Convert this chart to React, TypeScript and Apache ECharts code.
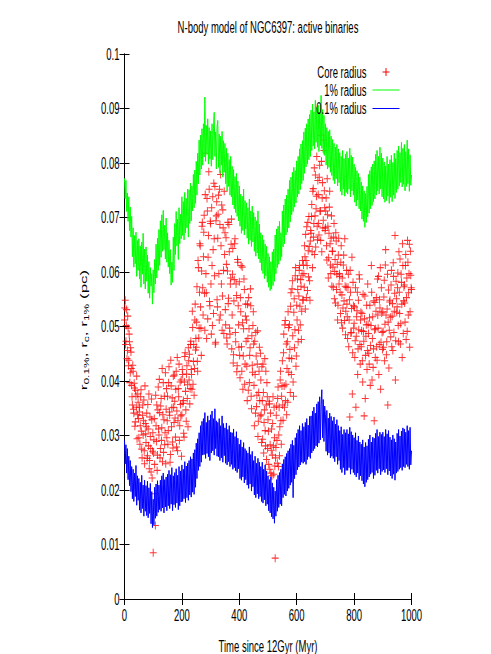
import React, { useEffect, useRef } from "react";
import * as echarts from "echarts";

// Time step between stored samples (Myr)
const STEP = 2.5;
// Second set of core-radius outputs sits half a step later
const OFFSET_B = 1.25;

const xTicks = [0, 200, 400, 600, 800, 1000];
const yTicks = [0, 0.01, 0.02, 0.03, 0.04, 0.05, 0.06, 0.07, 0.08, 0.09, 0.1];
const yTickLabels = ["0", "0.01", "0.02", "0.03", "0.04", "0.05", "0.06", "0.07", "0.08", "0.09", "0.1"];

// 1% Lagrangian radius (pc), every 2.5 Myr
const radius1pct = [
  0.0772, 0.0735, 0.0768, 0.0711, 0.0745, 0.0693, 0.0738, 0.0676, 0.0719, 0.0664,
  0.0702, 0.0628, 0.0681, 0.0609, 0.0667, 0.0615, 0.0673, 0.0592, 0.0658, 0.0603,
  0.0661, 0.0587, 0.0648, 0.0572, 0.0655, 0.0596, 0.0671, 0.0578, 0.0642, 0.0569,
  0.0646, 0.0583, 0.0631, 0.0561, 0.0619, 0.0552, 0.0608, 0.0574, 0.0597, 0.0541,
  0.0604, 0.0562, 0.0623, 0.0578, 0.0651, 0.0589, 0.0662, 0.0603, 0.0678, 0.0612,
  0.0694, 0.0627, 0.0705, 0.0638, 0.0713, 0.0641, 0.0686, 0.0624, 0.0699, 0.0618,
  0.0672, 0.0609, 0.0658, 0.0597, 0.0641, 0.0576, 0.0618, 0.0581, 0.0664, 0.0603,
  0.0689, 0.0632, 0.0711, 0.0648, 0.0697, 0.0623, 0.0718, 0.0652, 0.0706, 0.0661,
  0.0738, 0.0667, 0.0729, 0.0659, 0.0746, 0.0672, 0.0735, 0.0681, 0.0752, 0.0664,
  0.0751, 0.0689, 0.0763, 0.0694, 0.0758, 0.0712, 0.0779, 0.0718, 0.0787, 0.0726,
  0.0803, 0.0741, 0.0818, 0.0762, 0.0842, 0.0778, 0.0851, 0.0789, 0.0863, 0.0796,
  0.0872, 0.0811, 0.0921, 0.0803, 0.0869, 0.0816, 0.0881, 0.0798, 0.0865, 0.0807,
  0.0859, 0.0794, 0.0872, 0.0806, 0.0863, 0.0893, 0.0812, 0.0857, 0.0789, 0.0866,
  0.0878, 0.0792, 0.0853, 0.0781, 0.0849, 0.0796, 0.0858, 0.0774, 0.0841, 0.0783,
  0.0836, 0.0762, 0.0827, 0.0749, 0.0818, 0.0757, 0.0806, 0.0741, 0.0812, 0.0738,
  0.0794, 0.0723, 0.0788, 0.0716, 0.0775, 0.0709, 0.0781, 0.0702, 0.0767, 0.0694,
  0.0758, 0.0684, 0.0743, 0.0671, 0.0739, 0.0676, 0.0752, 0.0668, 0.0731, 0.0679,
  0.0727, 0.0662, 0.0718, 0.0651, 0.0734, 0.0658, 0.0712, 0.0647, 0.0721, 0.0655,
  0.0709, 0.0638, 0.0701, 0.0629, 0.0694, 0.0635, 0.0712, 0.0624, 0.0688, 0.0617,
  0.0672, 0.0603, 0.0668, 0.0597, 0.0659, 0.0588, 0.0651, 0.0593, 0.0647, 0.0581,
  0.0634, 0.0572, 0.0628, 0.0566, 0.0619, 0.0569, 0.0637, 0.0575, 0.0642, 0.0583,
  0.0668, 0.0597, 0.0679, 0.0608, 0.0684, 0.0614, 0.0693, 0.0621, 0.0672, 0.0628,
  0.0712, 0.0646, 0.0723, 0.0652, 0.0734, 0.0668, 0.0741, 0.0673, 0.0752, 0.0681,
  0.0768, 0.0692, 0.0774, 0.0705, 0.0783, 0.0711, 0.0792, 0.0719, 0.0786, 0.0727,
  0.0804, 0.0738, 0.0812, 0.0743, 0.0826, 0.0751, 0.0835, 0.0762, 0.0841, 0.0768,
  0.0857, 0.0781, 0.0864, 0.0793, 0.0872, 0.0798, 0.0881, 0.0806, 0.0889, 0.0812,
  0.0897, 0.0823, 0.0908, 0.0831, 0.0894, 0.0826, 0.0915, 0.0838, 0.0902, 0.0829,
  0.0906, 0.0821, 0.0893, 0.0832, 0.0924, 0.0827, 0.0898, 0.0819, 0.0887, 0.0814,
  0.0872, 0.0796, 0.0865, 0.0789, 0.0858, 0.0792, 0.0861, 0.0783, 0.0849, 0.0777,
  0.0843, 0.0768, 0.0836, 0.0762, 0.0829, 0.0771, 0.0834, 0.0758, 0.0826, 0.0764,
  0.0819, 0.0748, 0.0812, 0.0741, 0.0823, 0.0752, 0.0808, 0.0739, 0.0816, 0.0746,
  0.0821, 0.0743, 0.0809, 0.0752, 0.0827, 0.0738, 0.0814, 0.0749, 0.0811, 0.0741,
  0.0798, 0.0728, 0.0792, 0.0721, 0.0786, 0.0732, 0.0781, 0.0716, 0.0774, 0.0712,
  0.0765, 0.0697, 0.0758, 0.0693, 0.0749, 0.0682, 0.0744, 0.0691, 0.0757, 0.0701,
  0.0779, 0.0708, 0.0786, 0.0716, 0.0793, 0.0722, 0.0798, 0.0729, 0.0804, 0.0734,
  0.0816, 0.0741, 0.0823, 0.0749, 0.0812, 0.0743, 0.0829, 0.0752, 0.0818, 0.0738,
  0.0809, 0.0734, 0.0802, 0.0728, 0.0795, 0.0731, 0.0812, 0.0739, 0.0798, 0.0726,
  0.0806, 0.0737, 0.0814, 0.0729, 0.0801, 0.0741, 0.0818, 0.0735, 0.0808, 0.0746,
  0.0823, 0.0752, 0.0831, 0.0758, 0.0819, 0.0764, 0.0838, 0.0756, 0.0827, 0.0761,
  0.0834, 0.0749, 0.0821, 0.0757, 0.0842, 0.0762, 0.0826, 0.0748, 0.0815, 0.0759,
  0.0778,
];

// 0.1% Lagrangian radius (pc), every 2.5 Myr
const radius01pct = [
  0.0291, 0.0248, 0.0283, 0.0231, 0.0276, 0.0219, 0.0262, 0.0208, 0.0254, 0.0197,
  0.0243, 0.0184, 0.0238, 0.0179, 0.0231, 0.0188, 0.0245, 0.0172, 0.0226, 0.0181,
  0.0221, 0.0163, 0.0214, 0.0158, 0.0227, 0.0166, 0.0209, 0.0152, 0.0218, 0.0161,
  0.0208, 0.0153, 0.0216, 0.0149, 0.0204, 0.0157, 0.0212, 0.0138, 0.0197, 0.0131,
  0.0183, 0.0136, 0.0205, 0.0148, 0.0211, 0.0152, 0.0217, 0.0159, 0.0209, 0.0164,
  0.0218, 0.0161, 0.0226, 0.0167, 0.0231, 0.0158, 0.0219, 0.0169, 0.0224, 0.0162,
  0.0229, 0.0171, 0.0236, 0.0166, 0.0228, 0.0174, 0.0241, 0.0162, 0.0226, 0.0173,
  0.0232, 0.0168, 0.0239, 0.0176, 0.0227, 0.0164, 0.0243, 0.0171, 0.0235, 0.0178,
  0.0246, 0.0179, 0.0238, 0.0184, 0.0252, 0.0177, 0.0244, 0.0186, 0.0249, 0.0181,
  0.0254, 0.0191, 0.0261, 0.0187, 0.0257, 0.0196, 0.0268, 0.0192, 0.0274, 0.0205,
  0.0286, 0.0221, 0.0294, 0.0236, 0.0305, 0.0243, 0.0318, 0.0251, 0.0326, 0.0264,
  0.0331, 0.0265, 0.0342, 0.0258, 0.0324, 0.0267, 0.0336, 0.0261, 0.0328, 0.0254,
  0.0338, 0.0268, 0.0345, 0.0272, 0.0331, 0.0264, 0.0349, 0.0276, 0.0327, 0.0262,
  0.0324, 0.0261, 0.0331, 0.0254, 0.0318, 0.0259, 0.0336, 0.0251, 0.0322, 0.0263,
  0.0314, 0.0249, 0.0323, 0.0246, 0.0311, 0.0252, 0.0318, 0.0243, 0.0306, 0.0247,
  0.0305, 0.0238, 0.0312, 0.0241, 0.0298, 0.0235, 0.0307, 0.0232, 0.0295, 0.0239,
  0.0284, 0.0221, 0.0292, 0.0218, 0.0279, 0.0224, 0.0287, 0.0213, 0.0276, 0.0219,
  0.0272, 0.0209, 0.0268, 0.0203, 0.0279, 0.0211, 0.0265, 0.0198, 0.0271, 0.0206,
  0.0254, 0.0191, 0.0262, 0.0186, 0.0249, 0.0193, 0.0258, 0.0184, 0.0251, 0.0188,
  0.0243, 0.0179, 0.0251, 0.0176, 0.0238, 0.0182, 0.0246, 0.0171, 0.0235, 0.0174,
  0.0226, 0.0162, 0.0219, 0.0158, 0.0224, 0.0151, 0.0213, 0.0147, 0.0205, 0.0139,
  0.0198, 0.0152, 0.0219, 0.0161, 0.0227, 0.0168, 0.0232, 0.0174, 0.0238, 0.0171,
  0.0248, 0.0186, 0.0256, 0.0192, 0.0261, 0.0189, 0.0267, 0.0198, 0.0272, 0.0203,
  0.0276, 0.0209, 0.0284, 0.0214, 0.0291, 0.0186, 0.0282, 0.0221, 0.0296, 0.0228,
  0.0304, 0.0237, 0.0311, 0.0242, 0.0318, 0.0246, 0.0309, 0.0251, 0.0322, 0.0249,
  0.0316, 0.0252, 0.0324, 0.0247, 0.0331, 0.0256, 0.0319, 0.0261, 0.0335, 0.0258,
  0.0336, 0.0268, 0.0345, 0.0272, 0.0352, 0.0276, 0.0341, 0.0281, 0.0358, 0.0279,
  0.0362, 0.0286, 0.0371, 0.0292, 0.0357, 0.0384, 0.0296, 0.0366, 0.0289, 0.0354,
  0.0338, 0.0271, 0.0346, 0.0264, 0.0332, 0.0268, 0.0341, 0.0259, 0.0335, 0.0262,
  0.0327, 0.0258, 0.0334, 0.0252, 0.0321, 0.0261, 0.0329, 0.0247, 0.0318, 0.0254,
  0.0309, 0.0238, 0.0316, 0.0232, 0.0302, 0.0241, 0.0311, 0.0228, 0.0305, 0.0236,
  0.0311, 0.0236, 0.0303, 0.0241, 0.0315, 0.0229, 0.0307, 0.0238, 0.0301, 0.0232,
  0.0296, 0.0228, 0.0305, 0.0224, 0.0291, 0.0231, 0.0299, 0.0219, 0.0288, 0.0226,
  0.0284, 0.0217, 0.0292, 0.0211, 0.0279, 0.0206, 0.0287, 0.0214, 0.0281, 0.0219,
  0.0293, 0.0224, 0.0301, 0.0229, 0.0288, 0.0232, 0.0297, 0.0221, 0.0295, 0.0227,
  0.0304, 0.0236, 0.0311, 0.0231, 0.0298, 0.0239, 0.0306, 0.0228, 0.0302, 0.0234,
  0.0306, 0.0237, 0.0298, 0.0232, 0.0311, 0.0239, 0.0303, 0.0228, 0.0309, 0.0235,
  0.0297, 0.0226, 0.0292, 0.0221, 0.0301, 0.0229, 0.0294, 0.0218, 0.0288, 0.0231,
  0.0304, 0.0234, 0.0311, 0.0238, 0.0299, 0.0241, 0.0308, 0.0236, 0.0314, 0.0243,
  0.0312, 0.0241, 0.0306, 0.0247, 0.0318, 0.0243, 0.0309, 0.0238, 0.0315, 0.0246,
  0.0272,
];

// Core radius (pc), outputs at t = 0, 2.5, 5 ... Myr
const coreRadiusA = [
  0.0512, 0.0548, 0.0473, 0.0531, 0.0456, 0.0497, 0.0438, 0.0472, 0.0415, 0.0453,
  0.0392, 0.0356, 0.0418, 0.0341, 0.0387, 0.0325, 0.0372, 0.0409, 0.0338, 0.0361,
  0.0296, 0.0352, 0.0318, 0.0384, 0.0275, 0.0337, 0.0301, 0.0365, 0.0248, 0.0322,
  0.0287, 0.0341, 0.0263, 0.0312, 0.0376, 0.0254, 0.0298, 0.0233, 0.0329, 0.0271,
  0.0085, 0.0292, 0.0247, 0.0135, 0.0318, 0.0356, 0.0264, 0.0389, 0.0301, 0.0342,
  0.0276, 0.0368, 0.0314, 0.0252, 0.0397, 0.0329, 0.0283, 0.0415, 0.0348, 0.0296,
  0.0372, 0.0309, 0.0426, 0.0337, 0.0265, 0.0391, 0.0351, 0.0288, 0.0409, 0.0324,
  0.0363, 0.0297, 0.0418, 0.0345, 0.0272, 0.0386, 0.0431, 0.0318, 0.0357, 0.0402,
  0.0338, 0.0412, 0.0364, 0.0297, 0.0445, 0.0381, 0.0326, 0.0428, 0.0393, 0.0461,
  0.0402, 0.0358, 0.0467, 0.0421, 0.0385, 0.0498, 0.0436, 0.0374, 0.0512, 0.0457,
  0.0462, 0.0573, 0.0418, 0.0608, 0.0497, 0.0652, 0.0536, 0.0447, 0.0684, 0.0571,
  0.0628, 0.0704, 0.0493, 0.0818, 0.0562, 0.0735, 0.0514, 0.0667, 0.0752, 0.0538,
  0.0689, 0.0486, 0.0612, 0.0738, 0.0524, 0.0661, 0.0757, 0.0471, 0.0703, 0.0549,
  0.0662, 0.0741, 0.0512, 0.0687, 0.0779, 0.0578, 0.0493, 0.0714, 0.0603, 0.0748,
  0.0672, 0.0503, 0.0614, 0.0468, 0.0691, 0.0552, 0.0637, 0.0486, 0.0589, 0.0697,
  0.0521, 0.0643, 0.0448, 0.0586, 0.0661, 0.0472, 0.0557, 0.0428, 0.0618, 0.0503,
  0.0582, 0.0406, 0.0527, 0.0463, 0.0609, 0.0385, 0.0496, 0.0568, 0.0431, 0.0541,
  0.0512, 0.0364, 0.0478, 0.0553, 0.0397, 0.0461, 0.0538, 0.0349, 0.0429, 0.0502,
  0.0468, 0.0318, 0.0412, 0.0489, 0.0353, 0.0431, 0.0298, 0.0379, 0.0462, 0.0336,
  0.0402, 0.0287, 0.0364, 0.0431, 0.0268, 0.0347, 0.0309, 0.0418, 0.0256, 0.0371,
  0.0329, 0.0247, 0.0358, 0.0283, 0.0231, 0.0312, 0.0264, 0.0371, 0.0229, 0.0296,
  0.0075, 0.0278, 0.0354, 0.0249, 0.0389, 0.0301, 0.0263, 0.0402, 0.0327, 0.0372,
  0.0437, 0.0328, 0.0486, 0.0352, 0.0511, 0.0394, 0.0338, 0.0472, 0.0527, 0.0416,
  0.0503, 0.0379, 0.0562, 0.0441, 0.0584, 0.0398, 0.0526, 0.0461, 0.0593, 0.0427,
  0.0539, 0.0587, 0.0472, 0.0556, 0.0612, 0.0503, 0.0574, 0.0528, 0.0621, 0.0549,
  0.0597, 0.0648, 0.0532, 0.0621, 0.0683, 0.0566, 0.0639, 0.0702, 0.0584, 0.0657,
  0.0671, 0.0724, 0.0608, 0.0753, 0.0689, 0.0632, 0.0778, 0.0716, 0.0812, 0.0659,
  0.0742, 0.0668, 0.0796, 0.0712, 0.0851, 0.0637, 0.0764, 0.0695, 0.0823, 0.0718,
  0.0681, 0.0736, 0.0622, 0.0705, 0.0589, 0.0671, 0.0748, 0.0613, 0.0662, 0.0574,
  0.0638, 0.0572, 0.0689, 0.0601, 0.0543, 0.0657, 0.0596, 0.0512, 0.0631, 0.0578,
  0.0592, 0.0524, 0.0648, 0.0558, 0.0497, 0.0613, 0.0547, 0.0661, 0.0485, 0.0572,
  0.0541, 0.0478, 0.0596, 0.0512, 0.0334, 0.0563, 0.0489, 0.0627, 0.0452, 0.0538,
  0.0506, 0.0443, 0.0571, 0.0482, 0.0529, 0.0412, 0.0548, 0.0595, 0.0467, 0.0512,
  0.0463, 0.0524, 0.0398, 0.0491, 0.0336, 0.0556, 0.0447, 0.0503, 0.0421, 0.0578,
  0.0487, 0.0431, 0.0539, 0.0465, 0.0612, 0.0402, 0.0518, 0.0459, 0.0327, 0.0544,
  0.0496, 0.0553, 0.0438, 0.0521, 0.0592, 0.0467, 0.0534, 0.0385, 0.0571, 0.0489,
  0.0527, 0.0462, 0.0585, 0.0504, 0.0641, 0.0448, 0.0532, 0.0356, 0.0567, 0.0493,
  0.0548, 0.0481, 0.0603, 0.0519, 0.0456, 0.0592, 0.0528, 0.0667, 0.0474, 0.0551,
  0.0536, 0.0598, 0.0472, 0.0563, 0.0624, 0.0505, 0.0581, 0.0443, 0.0612, 0.0547,
  0.0576, 0.0508, 0.0632, 0.0553, 0.0491, 0.0618, 0.0562, 0.0651, 0.0527, 0.0594,
  0.0568,
];

// Core radius (pc), outputs at t = 1.25, 3.75, 6.25 ... Myr
const coreRadiusB = [
  0.0534, 0.0467, 0.0502, 0.0441, 0.0519, 0.0428, 0.0486, 0.0397, 0.0461, 0.0423,
  0.0371, 0.0429, 0.0348, 0.0396, 0.0317, 0.0383, 0.0352, 0.0294, 0.0376, 0.0331,
  0.0343, 0.0284, 0.0371, 0.0308, 0.0259, 0.0356, 0.0327, 0.0272, 0.0391, 0.0303,
  0.0316, 0.0258, 0.0357, 0.0281, 0.0239, 0.0334, 0.0276, 0.0367, 0.0222, 0.0305,
  0.0268, 0.0331, 0.0193, 0.0374, 0.0289, 0.0236, 0.0347, 0.0312, 0.0403, 0.0259,
  0.0354, 0.0291, 0.0423, 0.0338, 0.0269, 0.0372, 0.0305, 0.0248, 0.0386, 0.0327,
  0.0284, 0.0397, 0.0343, 0.0251, 0.0438, 0.0316, 0.0369, 0.0277, 0.0352, 0.0411,
  0.0332, 0.0385, 0.0279, 0.0443, 0.0327, 0.0371, 0.0291, 0.0398, 0.0336, 0.0262,
  0.0421, 0.0359, 0.0304, 0.0398, 0.0452, 0.0347, 0.0413, 0.0368, 0.0316, 0.0437,
  0.0449, 0.0386, 0.0473, 0.0412, 0.0528, 0.0394, 0.0467, 0.0423, 0.0541, 0.0478,
  0.0508, 0.0436, 0.0621, 0.0479, 0.0563, 0.0648, 0.0497, 0.0602, 0.0691, 0.0521,
  0.0673, 0.0561, 0.0742, 0.0597, 0.0478, 0.0712, 0.0627, 0.0784, 0.0546, 0.0693,
  0.0578, 0.0718, 0.0502, 0.0641, 0.0763, 0.0593, 0.0468, 0.0694, 0.0729, 0.0536,
  0.0706, 0.0597, 0.0752, 0.0521, 0.0648, 0.0723, 0.0556, 0.0681, 0.0487, 0.0632,
  0.0531, 0.0663, 0.0479, 0.0602, 0.0542, 0.0687, 0.0497, 0.0578, 0.0651, 0.0459,
  0.0596, 0.0433, 0.0547, 0.0652, 0.0489, 0.0578, 0.0417, 0.0623, 0.0538, 0.0462,
  0.0447, 0.0553, 0.0612, 0.0418, 0.0507, 0.0446, 0.0587, 0.0394, 0.0519, 0.0473,
  0.0427, 0.0541, 0.0383, 0.0496, 0.0447, 0.0569, 0.0372, 0.0483, 0.0416, 0.0527,
  0.0392, 0.0473, 0.0341, 0.0446, 0.0374, 0.0492, 0.0326, 0.0418, 0.0364, 0.0451,
  0.0338, 0.0426, 0.0293, 0.0379, 0.0324, 0.0441, 0.0281, 0.0356, 0.0397, 0.0276,
  0.0308, 0.0363, 0.0238, 0.0341, 0.0273, 0.0226, 0.0322, 0.0281, 0.0352, 0.0244,
  0.0259, 0.0337, 0.0291, 0.0368, 0.0243, 0.0352, 0.0316, 0.0418, 0.0284, 0.0391,
  0.0356, 0.0452, 0.0391, 0.0503, 0.0364, 0.0468, 0.0423, 0.0361, 0.0498, 0.0442,
  0.0458, 0.0537, 0.0412, 0.0569, 0.0483, 0.0372, 0.0551, 0.0494, 0.0608, 0.0446,
  0.0512, 0.0568, 0.0493, 0.0603, 0.0537, 0.0586, 0.0476, 0.0594, 0.0548, 0.0613,
  0.0572, 0.0628, 0.0669, 0.0553, 0.0612, 0.0691, 0.0591, 0.0647, 0.0548, 0.0676,
  0.0702, 0.0637, 0.0748, 0.0664, 0.0791, 0.0703, 0.0646, 0.0739, 0.0684, 0.0768,
  0.0689, 0.0774, 0.0712, 0.0658, 0.0803, 0.0736, 0.0681, 0.0842, 0.0749, 0.0676,
  0.0712, 0.0648, 0.0771, 0.0684, 0.0626, 0.0719, 0.0652, 0.0597, 0.0703, 0.0638,
  0.0609, 0.0664, 0.0551, 0.0623, 0.0672, 0.0568, 0.0614, 0.0539, 0.0662, 0.0597,
  0.0563, 0.0618, 0.0507, 0.0589, 0.0534, 0.0631, 0.0511, 0.0574, 0.0528, 0.0603,
  0.0518, 0.0572, 0.0463, 0.0549, 0.0603, 0.0488, 0.0533, 0.0376, 0.0581, 0.0497,
  0.0536, 0.0474, 0.0352, 0.0518, 0.0563, 0.0459, 0.0494, 0.0587, 0.0431, 0.0526,
  0.0492, 0.0437, 0.0559, 0.0473, 0.0514, 0.0368, 0.0482, 0.0539, 0.0456, 0.0504,
  0.0451, 0.0516, 0.0392, 0.0502, 0.0563, 0.0478, 0.0425, 0.0547, 0.0494, 0.0443,
  0.0528, 0.0463, 0.0587, 0.0497, 0.0412, 0.0549, 0.0608, 0.0471, 0.0525, 0.0458,
  0.0491, 0.0554, 0.0437, 0.0613, 0.0521, 0.0472, 0.0596, 0.0508, 0.0424, 0.0545,
  0.0517, 0.0576, 0.0463, 0.0542, 0.0617, 0.0489, 0.0561, 0.0402, 0.0583, 0.0526,
  0.0571, 0.0502, 0.0637, 0.0524, 0.0468, 0.0596, 0.0541, 0.0652, 0.0487, 0.0573,
  0.0543, 0.0612, 0.0476, 0.0589, 0.0658, 0.0521, 0.0597, 0.0462, 0.0638, 0.0571,
];

const TITLE = "N-body model of NGC6397: active binaries";
const X_NAME = "Time since 12Gyr (Myr)";
const LEGEND = ["Core radius", "1% radius", "0.1% radius"];

const FONT = '17px "Liberation Sans", Arial, Helvetica, sans-serif';
const SQUEEZE = 0.56;

const toPairs = (arr: number[], offset = 0) => arr.map((v, i) => [offset + i * STEP, v]);

const PLUS = "path://M0,4L8,4M4,0L4,8";

export default function App() {
  const ref = useRef<HTMLDivElement>(null);

  useEffect(() => {
    if (!ref.current) return;
    const chart = echarts.init(ref.current, null, { renderer: "svg" });
    const L = 124.5, R = 411.5, T = 54, B = 599;
    const axisCommon = {
      type: "value" as const,
      axisLine: { show: true, lineStyle: { color: "#000", width: 1 } },
      splitLine: { show: false },
      axisLabel: { show: false },
    };
    const xTick = { show: true, inside: true, length: 6, lineStyle: { color: "#000", width: 1 } };
    const yTick = { show: true, inside: true, length: 5, lineStyle: { color: "#000", width: 1 } };
    const redStyle = { color: "#ff0000", borderColor: "#ff0000", borderWidth: 1, opacity: 0.8 };

    chart.setOption({
      animation: false,
      backgroundColor: "#fff",
      grid: { left: L, right: 491 - R, top: T, bottom: 654 - B, containLabel: false },
      xAxis: [
        { ...axisCommon, position: "bottom", min: 0, max: 1000, interval: 200, axisTick: xTick },
        { ...axisCommon, position: "top", min: 0, max: 1000, interval: 200, axisTick: xTick },
      ],
      yAxis: [
        { ...axisCommon, position: "left", min: 0, max: 0.1, interval: 0.01, axisTick: yTick },
        { ...axisCommon, position: "right", min: 0, max: 0.1, interval: 0.01, axisTick: yTick },
      ],
      series: [
        {
          name: LEGEND[0],
          type: "scatter",
          data: toPairs(coreRadiusA),
          symbol: PLUS,
          symbolSize: [7, 8],
          itemStyle: redStyle,
          z: 2,
        },
        {
          name: LEGEND[0] + " (b)",
          type: "scatter",
          data: toPairs(coreRadiusB, OFFSET_B),
          symbol: PLUS,
          symbolSize: [7, 8],
          itemStyle: redStyle,
          z: 2,
        },
        {
          name: LEGEND[1],
          type: "line",
          data: toPairs(radius1pct),
          showSymbol: false,
          lineStyle: { color: "#00ff00", width: 1 },
          z: 3,
        },
        {
          name: LEGEND[2],
          type: "line",
          data: toPairs(radius01pct),
          showSymbol: false,
          lineStyle: { color: "#0000ff", width: 1 },
          z: 4,
        },
      ],
    });

    const txt = (text: string, x: number, y: number, align: string, extra: any = {}) => ({
      type: "text",
      x,
      y,
      scaleX: SQUEEZE,
      style: { text, font: FONT, fill: "#000", align, verticalAlign: "middle" },
      z: 10,
      ...extra,
    });

    const graphics: any[] = [];
    yTicks.forEach((v, i) => {
      const py = chart.convertToPixel({ yAxisIndex: 0 }, v) as number;
      graphics.push(txt(yTickLabels[i], 119.5, py, "right"));
    });
    xTicks.forEach((v) => {
      const px = chart.convertToPixel({ xAxisIndex: 0 }, v) as number;
      graphics.push(txt(String(v), px, 615, "center"));
    });
    graphics.push(txt(TITLE, (L + R) / 2, 27, "center"));
    graphics.push(txt(X_NAME, (L + R) / 2, 646, "center"));

    // Legend
    const legendX = 366.5;
    graphics.push(txt(LEGEND[0], legendX, 72, "right"));
    graphics.push({ type: "line", shape: { x1: 382.5, y1: 72, x2: 389.5, y2: 72 }, style: { stroke: "#ff0000", lineWidth: 1 }, z: 10 });
    graphics.push({ type: "line", shape: { x1: 386, y1: 68, x2: 386, y2: 76 }, style: { stroke: "#ff0000", lineWidth: 1 }, z: 10 });
    graphics.push(txt(LEGEND[1], legendX, 90, "right"));
    graphics.push({ type: "line", shape: { x1: 372.5, y1: 90, x2: 399.5, y2: 90 }, style: { stroke: "#00ff00", lineWidth: 1 }, z: 10 });
    graphics.push(txt(LEGEND[2], legendX, 108.5, "right"));
    graphics.push({ type: "line", shape: { x1: 372.5, y1: 108.5, x2: 399.5, y2: 108.5 }, style: { stroke: "#0000ff", lineWidth: 1 }, z: 10 });

    // Rotated y-axis title with subscripts
    graphics.push({
      type: "text",
      x: 84,
      y: 330,
      rotation: Math.PI / 2,
      scaleY: SQUEEZE,
      z: 10,
      style: {
        text: "{r|r}{s|0.1%}{r|, r}{s|c}{r|, r}{s|1%}{r| (pc)}",
        align: "center",
        verticalAlign: "middle",
        rich: {
          r: { font: FONT, fill: "#000", lineHeight: 22, verticalAlign: "bottom", padding: [0, 0, 3, 0] },
          s: { font: '12px "Liberation Sans", Arial, sans-serif', fill: "#000", lineHeight: 22, verticalAlign: "bottom" },
        },
      },
    });

    chart.setOption({ graphic: graphics });
    return () => chart.dispose();
  }, []);

  return (
    <div
      ref={ref}
      style={{ position: "fixed", left: 0, top: 0, width: 491, height: 654, background: "#fff" }}
    />
  );
}
